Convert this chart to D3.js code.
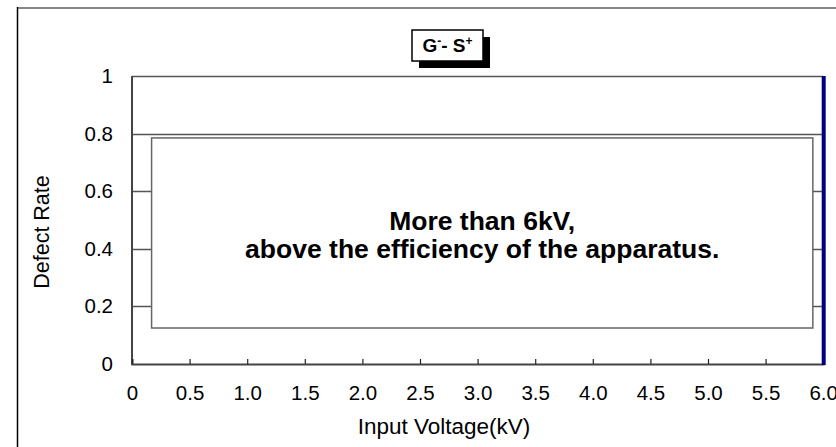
<!DOCTYPE html>
<html>
<head>
<meta charset="utf-8">
<script src="https://cdn.jsdelivr.net/npm/d3@7"></script>
<style>
  html, body { margin: 0; padding: 0; background: #fff; }
  svg { display: block; font-family: "Liberation Sans", Arial, sans-serif; }
</style>
</head>
<body>
<div id="chart"></div>
<script>
const width = 836, height = 447;

// data
const voltages = [6.0];
const defectRates = [1];
const xTicks = [0, 0.5, 1.0, 1.5, 2.0, 2.5, 3.0, 3.5, 4.0, 4.5, 5.0, 5.5, 6.0];
const yTicks = [0, 0.2, 0.4, 0.6, 0.8, 1];
const xTickLabels = ["0", "0.5", "1.0", "1.5", "2.0", "2.5", "3.0", "3.5", "4.0", "4.5", "5.0", "5.5", "6.0"];
const yTickLabels = ["0", "0.2", "0.4", "0.6", "0.8", "1"];
const noteLines = ["More than 6kV,", "above the efficiency of the apparatus."];
const xTitle = "Input Voltage(kV)";
const yTitle = "Defect Rate";

const svg = d3.select("#chart")
  .append("svg")
  .attr("width", width)
  .attr("height", height);

const x = d3.scaleLinear().domain([0, 6]).range([132, 823.2]);
const y = d3.scaleLinear().domain([0, 1]).range([364, 76]);

// outer frame
svg.append("line")
  .attr("x1", 17).attr("x2", width)
  .attr("y1", 8).attr("y2", 8)
  .attr("stroke", "#888").attr("stroke-width", 2);
svg.append("line")
  .attr("x1", 17.5).attr("x2", 17.5)
  .attr("y1", 7).attr("y2", height)
  .attr("stroke", "#000").attr("stroke-width", 1.5);

// gridlines
svg.append("g")
  .selectAll("line")
  .data(yTicks.filter(d => d > 0))
  .join("line")
  .attr("x1", x(0)).attr("x2", x(6))
  .attr("y1", d => Math.round(y(d)) + 0.5)
  .attr("y2", d => Math.round(y(d)) + 0.5)
  .attr("stroke", "#555")
  .attr("stroke-width", 1.3);

// axes
svg.append("line")
  .attr("x1", x(0)).attr("x2", x(0))
  .attr("y1", y(1)).attr("y2", y(0) + 1)
  .attr("stroke", "#444").attr("stroke-width", 2);

const xAxis = svg.append("g")
  .attr("transform", `translate(0,${y(0)})`)
  .call(d3.axisBottom(x)
    .tickValues(xTicks)
    .tickSize(-5)
    .tickPadding(21)
    .tickFormat((d, i) => xTickLabels[i]));
xAxis.select(".domain").attr("stroke", "#444").attr("stroke-width", 2);
xAxis.selectAll(".tick line").attr("stroke", "#222").attr("stroke-width", 1.2);
xAxis.selectAll(".tick text")
  .attr("font-size", 20.5)
  .attr("fill", "#000")
  .attr("font-family", "'Liberation Sans', Arial, sans-serif");

const yAxis = svg.append("g")
  .attr("transform", `translate(${x(0)},0)`)
  .call(d3.axisLeft(y)
    .tickValues(yTicks)
    .tickSize(0)
    .tickPadding(19)
    .tickFormat((d, i) => yTickLabels[i]));
yAxis.select(".domain").remove();
yAxis.selectAll(".tick text")
  .attr("font-size", 20.5)
  .attr("fill", "#000")
  .attr("font-family", "'Liberation Sans', Arial, sans-serif");

// bars
svg.append("g")
  .selectAll("rect")
  .data(voltages)
  .join("rect")
  .attr("x", d => x(d) - 1.5)
  .attr("width", 4)
  .attr("y", (d, i) => y(defectRates[i]))
  .attr("height", (d, i) => y(0) - y(defectRates[i]) + 1)
  .attr("fill", "#000080");

// annotation box
svg.append("rect")
  .attr("x", x(0.17))
  .attr("y", y(0.785))
  .attr("width", x(5.91) - x(0.17))
  .attr("height", y(0.125) - y(0.785))
  .attr("fill", "#fff")
  .attr("stroke", "#666")
  .attr("stroke-width", 1.5);

svg.append("g")
  .selectAll("text")
  .data(noteLines)
  .join("text")
  .attr("x", (x(0.17) + x(5.91)) / 2)
  .attr("y", (d, i) => 230 + i * 28)
  .attr("text-anchor", "middle")
  .attr("font-size", 26.5)
  .attr("font-weight", "bold")
  .attr("fill", "#000")
  .text(d => d);

// axis titles
svg.append("text")
  .attr("x", 444)
  .attr("y", 434)
  .attr("text-anchor", "middle")
  .attr("font-size", 22.5)
  .attr("fill", "#000")
  .text(xTitle);

svg.append("text")
  .attr("transform", "translate(49,232) rotate(-90)")
  .attr("text-anchor", "middle")
  .attr("font-size", 21.5)
  .attr("fill", "#000")
  .text(yTitle);

// title box with shadow
const tb = { x: 412, y: 30, w: 71, h: 31 };
svg.append("rect")
  .attr("x", tb.x + 7).attr("y", tb.y + 7)
  .attr("width", tb.w).attr("height", tb.h)
  .attr("fill", "#000");
svg.append("rect")
  .attr("x", tb.x).attr("y", tb.y)
  .attr("width", tb.w).attr("height", tb.h)
  .attr("fill", "#fff")
  .attr("stroke", "#000")
  .attr("stroke-width", 1.5);

const title = svg.append("text")
  .attr("x", tb.x + tb.w / 2)
  .attr("y", tb.y + 22)
  .attr("text-anchor", "middle")
  .attr("font-size", 19)
  .attr("font-weight", "bold")
  .attr("fill", "#000");
title.append("tspan").text("G");
title.append("tspan").attr("font-size", 12).attr("dy", -7).text("-");
title.append("tspan").attr("dy", 7).text("- S");
title.append("tspan").attr("font-size", 12).attr("dy", -7).text("+");
</script>
</body>
</html>
